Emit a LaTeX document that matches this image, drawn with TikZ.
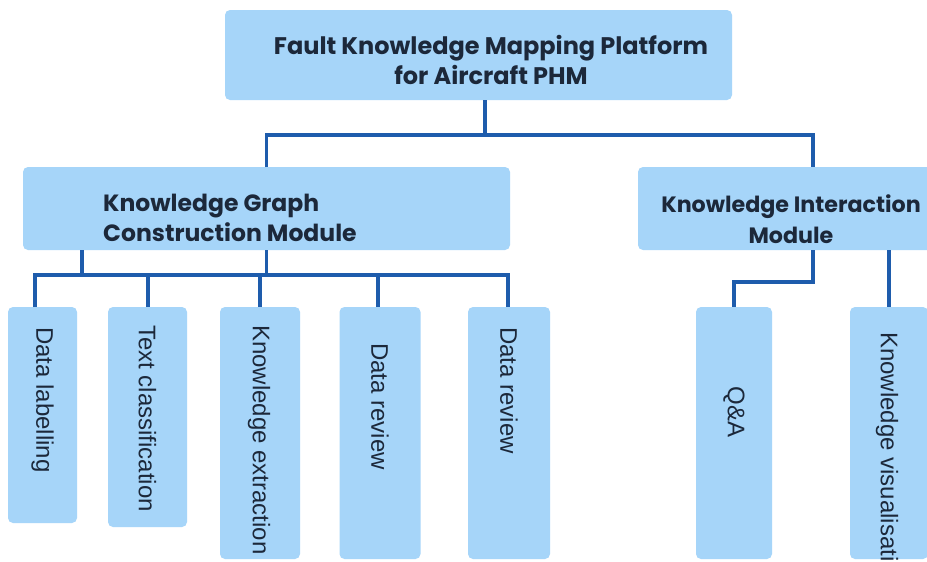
\documentclass[tikz,border=0pt]{standalone}
\usepackage{fontspec}
\setmainfont{Liberation Sans}
\newfontfamily\headfont{Poppins}
\definecolor{boxfill}{RGB}{166,213,249}
\definecolor{wire}{RGB}{30,92,172}
\definecolor{ink}{RGB}{28,40,58}
\tikzset{
  box/.style={fill=boxfill, rounded corners=5pt, inner sep=0pt, outer sep=0pt},
  headtext/.style={inner sep=0pt, text=ink,
                   font=\headfont\bfseries\fontsize{23.5}{30}\selectfont},
  leaftext/.style={rotate=-90, anchor=west, inner sep=0pt, text=ink,
                   font=\fontsize{24}{28}\selectfont},
  wire/.style={draw=wire, line width=3.5pt}
}
\begin{document}
\begin{tikzpicture}[x=1pt,y=-1pt]
\useasboundingbox (0,0) rectangle (927,562);
\clip (0,0) rectangle (927,562);
\fill[white] (0,0) rectangle (927,562);

% top level and module boxes
\node[box, minimum width=507pt, minimum height=90pt] (root) at (478.5,55) {};
\node[box, minimum width=487pt, minimum height=83pt] (kg) at (266.5,208.5) {};
\node[box, minimum width=307pt, minimum height=83pt] (ki) at (791.5,208.5) {};

\node[headtext, align=center, font=\headfont\bfseries\fontsize{24}{30}\selectfont]
  (roott) at (491,60) {Fault Knowledge Mapping Platform\\for Aircraft PHM};
\node[headtext, align=left, anchor=west] (kgt) at (103,217.5)
  {Knowledge Graph\\Construction Module};
\node[headtext, align=center, font=\headfont\bfseries\fontsize{22.2}{31}\selectfont]
  (kit) at (791,219) {Knowledge Interaction\\Module};

% leaves of the construction module
\node[box, minimum width=69pt, minimum height=216pt] (l1) at (42.5,415) {};
\node[box, minimum width=79pt, minimum height=220pt] (l2) at (147.5,417) {};
\node[box, minimum width=80pt, minimum height=252pt] (l3) at (260,433) {};
\node[box, minimum width=81pt, minimum height=252pt] (l4) at (380,433) {};
\node[box, minimum width=82pt, minimum height=252pt] (l5) at (509,433) {};
% leaves of the interaction module
\node[box, minimum width=76pt, minimum height=252pt] (q1) at (734,433) {};
\node[box, minimum width=78pt, minimum height=252pt] (q2) at (889,433) {};

\node[leaftext] (t1) at (42.5,327) {Data labelling};
\node[leaftext] (t2) at (147.5,325) {Text classification};
\node[leaftext] (t3) at (259,325) {Knowledge extraction};
\node[leaftext] (t4) at (380,343) {Data review};
\node[leaftext] (t5) at (509,327) {Data review};
\node[leaftext, anchor=center] (t6) at (734,412) {Q\&A};
\node[leaftext] (t7) at (887,332) {Knowledge visualisation};

% junction points
\coordinate (rootbus) at (0,135);
\coordinate (kgbus) at (0,275);
\coordinate (kistep) at (0,282);

% root to modules
\draw[wire] (root.south -| 485,0) -- (rootbus -| 485,0);
\draw[wire] (kg.north) |- (rootbus -| 485,0) -| (ki.north -| 813,0);

% construction module to its leaves
\draw[wire] (kg.south -| 82,0) -- (kgbus -| 82,0);
\draw[wire] (kg.south) -- (kgbus -| kg.south);
\draw[wire] (l1.north -| 35,0) -- (kgbus -| 35,0) -- (kgbus -| 508,0) -- (l5.north -| 508,0);
\draw[wire] (kgbus -| 148,0) -- (l2.north -| 148,0);
\draw[wire] (kgbus -| l3.north) -- (l3.north);
\draw[wire] (kgbus -| 378,0) -- (l4.north -| 378,0);

% interaction module to its leaves
\draw[wire] (ki.south -| 813,0) -- (kistep -| 813,0) -- (kistep -| q1.north) -- (q1.north);
\draw[wire] (ki.south -| q2.north) -- (q2.north);
\end{tikzpicture}
\end{document}
